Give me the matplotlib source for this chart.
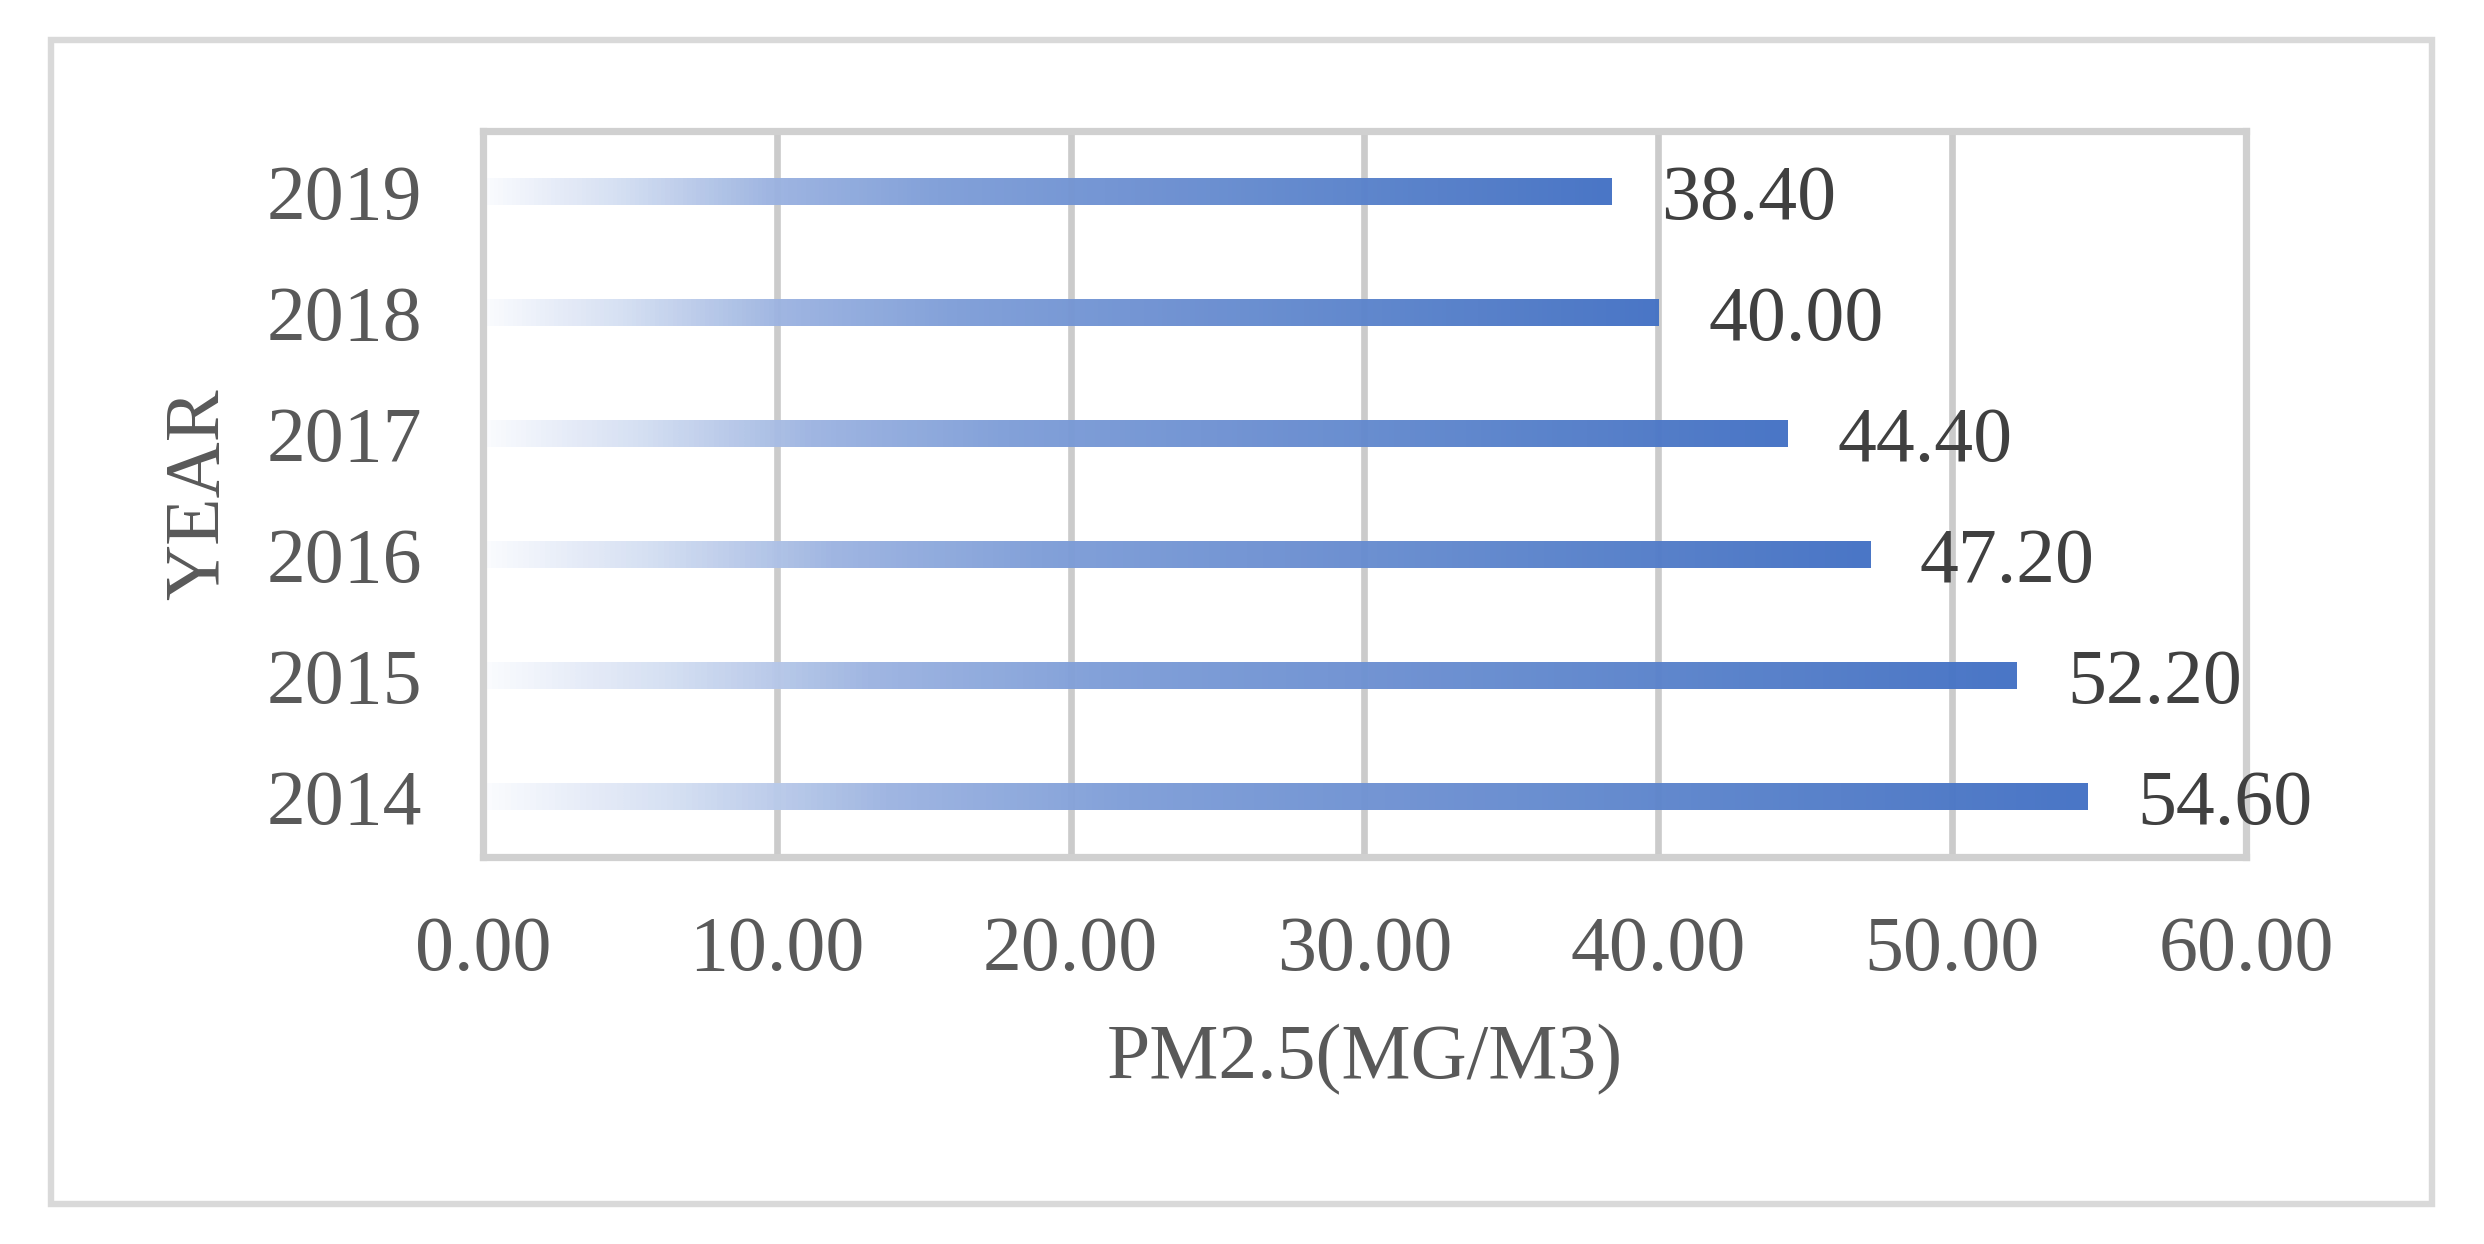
#!/usr/bin/env python3
"""
PM2.5 by year, horizontal bars with a white-to-blue gradient fill.
Saves out.png (2484 x 1244).
"""

import numpy as np
import matplotlib
matplotlib.use("Agg")
import matplotlib.pyplot as plt
from matplotlib.colors import LinearSegmentedColormap
from matplotlib.patches import Rectangle


# ----------------------------
# Data
# ----------------------------
years = ["2014", "2015", "2016", "2017", "2018", "2019"]
pm25 = [54.6, 52.2, 47.2, 44.4, 40.0, 38.4]
x_ticks = [0, 10, 20, 30, 40, 50, 60]


# ----------------------------
# Style
# ----------------------------
FONT = ["Liberation Serif", "DejaVu Serif"]
TICK_COLOR = "#595959"
LABEL_COLOR = "#404040"
GRID_COLOR = "#CBCBCB"
FRAME_COLOR = "#D0D0D0"
BORDER_COLOR = "#D9D9D9"
FS = 28

grad_cmap = LinearSegmentedColormap.from_list(
    "bar_grad",
    [(0.0, "#FAFBFE"), (0.12, "#D3DEF2"), (0.25, "#9DB4E1"),
     (0.40, "#7F9ED8"), (1.0, "#4472C4")],
)

plt.rcParams["font.family"] = FONT

fig = plt.figure(figsize=(12.42, 6.22), dpi=200)
ax = fig.add_axes([0.1944, 0.3111, 0.7098, 0.5836])

# outer chart border
fig.patches.append(Rectangle((0.0205, 0.0322), 0.9585, 0.9356,
                             transform=fig.transFigure, fill=False,
                             edgecolor=BORDER_COLOR, linewidth=2.3,
                             zorder=0))

ypos = np.arange(len(years))
bars = ax.barh(ypos, pm25, height=0.23, color="none", edgecolor="none",
               zorder=2)

# gradient fill, clipped to each bar
grad = np.linspace(0, 1, 256).reshape(1, -1)
for b in bars:
    x0, y0 = b.get_x(), b.get_y()
    w, h = b.get_width(), b.get_height()
    im = ax.imshow(grad, cmap=grad_cmap, aspect="auto", alpha=0.97,
                   extent=[x0, x0 + w, y0, y0 + h], zorder=2,
                   interpolation="bilinear")
    im.set_clip_path(b)

# data labels
for y, v in zip(ypos, pm25):
    ax.annotate(f"{v:.2f}", xy=(v, y), xytext=(18, -3),
                textcoords="offset points", va="center", ha="left",
                fontsize=FS, color=LABEL_COLOR, clip_on=False)

ax.set_xlim(0, 60)
ax.set_ylim(-0.5, len(years) - 0.5)
ax.set_xticks(x_ticks)
ax.set_xticklabels([f"{t:.2f}" for t in x_ticks])
ax.set_yticks(ypos)
ax.set_yticklabels(years)

ax.tick_params(axis="both", length=0, labelsize=FS, labelcolor=TICK_COLOR)
ax.tick_params(axis="x", pad=21)
ax.tick_params(axis="y", pad=22)

ax.grid(axis="x", color=GRID_COLOR, linewidth=2.4, zorder=1)
ax.set_axisbelow(True)
for s in ax.spines.values():
    s.set_color(FRAME_COLOR)
    s.set_linewidth(2.6)

# axis titles
fig.text(199 / 2484, 0.603, "YEAR", rotation=90, ha="center", va="center",
         fontsize=FS, color=TICK_COLOR)
fig.text(1365 / 2484, 1 - 1060 / 1244, "PM2.5(MG/M3)", ha="center",
         va="center", fontsize=FS, color=TICK_COLOR)

fig.savefig("out.png", dpi=200, facecolor="white")
